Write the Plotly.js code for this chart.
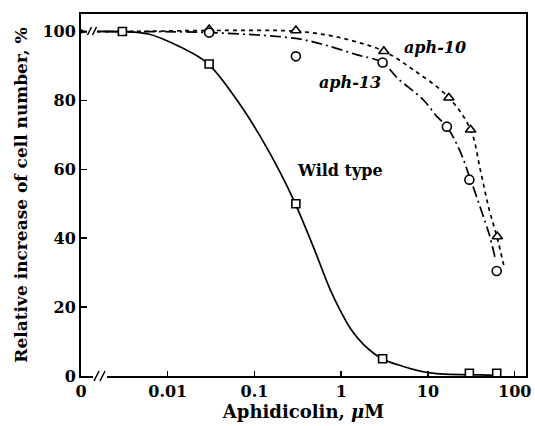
<!DOCTYPE html>
<html>
<head>
<meta charset="utf-8">
<script src="https://cdn.plot.ly/plotly-3.0.1.min.js"></script>
<style>html,body{margin:0;padding:0;background:#fff;}</style>
</head>
<body>
<div id="chart" style="width:535px;height:426px;"></div>
<script>
// Tick positions (dose 0 is drawn at the 0.001 position of the log axis)
const doseTicks = [0.001, 0.01, 0.1, 1, 10, 100];
const doseTickText = ['0', '0.01', '0.1', '1', '10', '100'];
const pctTicks = [0, 20, 40, 60, 80, 100];

// Measured points
const wtDose = [0.003, 0.03, 0.3, 3, 30, 62];
const wtPct = [100, 90.6, 50, 5.0, 0.8, 0.8];
const aph10Dose = [0.03, 0.3, 3.1, 17.4, 31, 63];
const aph10Pct = [100.6, 100.3, 94.3, 80.8, 71.5, 40.5];
const aph13Dose = [0.03, 0.3, 3.0, 16.5, 30, 62];
const aph13Pct = [99.7, 92.8, 91.0, 72.4, 57.0, 30.5];
const zeroDose = [0.001];
const zeroPct = [100];

// Fitted curves
const wtCurveX = [0.001, 0.003, 0.006, 0.014, 0.029, 0.069, 0.117, 0.199, 0.296, 0.477, 0.748, 1.0, 1.3, 1.8, 2.96, 5, 10.5, 40, 62];
const wtCurveY = [100, 100, 99.3, 95.5, 90.7, 78.6, 69.5, 59.0, 50, 37.5, 25.0, 18.5, 13.5, 9.2, 5.0, 2.9, 0.9, 0.3, 0.2];
const aph10CurveX = [0.001, 0.003, 0.03, 0.3, 0.75, 1.5, 3.1, 6.7, 17.4, 31, 40, 50, 63, 75];
const aph10CurveY = [100, 100, 100.3, 100.1, 98.8, 97.0, 94.3, 89.0, 80.8, 71.5, 60.0, 49.0, 40.0, 32.0];
const aph13CurveX = [0.001, 0.003, 0.03, 0.3, 0.63, 1.5, 3.0, 4.4, 8.8, 12.7, 16.5, 23, 30, 40, 51, 59];
const aph13CurveY = [100, 100, 99.7, 98.0, 96.2, 93.3, 91.0, 86.6, 80.2, 75.3, 72.4, 65.7, 58.0, 49.0, 41.0, 34.6];

const F = 'DejaVu Serif';
const lineT = (x, y, dash) => ({
  x: x, y: y, type: 'scatter', mode: 'lines', hoverinfo: 'skip', showlegend: false,
  line: {color: 'black', width: 1.7, dash: dash, shape: 'spline', smoothing: 1}
});
const markT = (x, y, sym, size) => ({
  x: x, y: y, type: 'scatter', mode: 'markers', showlegend: false, cliponaxis: false,
  marker: {symbol: sym, size: size, color: 'white', line: {color: 'black', width: 1.6}}
});

const traces = [
  lineT(wtCurveX, wtCurveY, 'solid'),
  lineT(aph10CurveX, aph10CurveY, '4px,4px'),
  lineT(aph13CurveX, aph13CurveY, '11px,4px,2px,4px'),
  markT(wtDose, wtPct, 'square', 8),
  markT(aph10Dose, aph10Pct, 'triangle-up', 9),
  markT(aph13Dose, aph13Pct, 'circle', 9),
  {x: zeroDose, y: zeroPct, type: 'scatter', mode: 'markers', showlegend: false, cliponaxis: false,
   marker: {symbol: 'triangle-right', size: 7, color: 'black'}}
];

const px = v => (v - 81) / 445;
const py = v => (376 - v) / 362;
const whiteRect = (x0, x1, y0, y1) => ({type: 'rect', xref: 'paper', yref: 'paper', layer: 'above',
  x0: px(x0), x1: px(x1), y0: py(y1), y1: py(y0), fillcolor: 'white', line: {width: 0}});
const slash = (x0, y0, x1, y1) => ({type: 'line', xref: 'paper', yref: 'paper', layer: 'above',
  x0: px(x0), y0: py(y0), x1: px(x1), y1: py(y1), line: {color: 'black', width: 1.6}});

const layout = {
  width: 535, height: 426,
  margin: {l: 81, r: 9, t: 14, b: 50},
  paper_bgcolor: 'white', plot_bgcolor: 'white',
  font: {family: F, color: 'black'},
  xaxis: {
    type: 'log', range: [-3.0, 2.13], tickvals: doseTicks, ticktext: doseTickText,
    ticks: 'inside', ticklen: 5, tickwidth: 1.5, tickcolor: 'black',
    showline: true, linewidth: 2, linecolor: 'black', mirror: true,
    showgrid: false, zeroline: false,
    tickfont: {family: F, size: 16, weight: 'bold', color: 'black'},
    title: {text: 'Aphidicolin, <i>μ</i>M', standoff: 4, font: {family: F, size: 18, weight: 'bold', color: 'black'}}
  },
  yaxis: {
    range: [0, 105.1], tickvals: pctTicks,
    ticks: 'inside', ticklen: 6, tickwidth: 1.5, tickcolor: 'black',
    showline: true, linewidth: 2, linecolor: 'black', mirror: true,
    showgrid: false, zeroline: false,
    tickfont: {family: F, size: 16, weight: 'bold', color: 'black'},
    title: {text: 'Relative increase of cell number, %', standoff: 10, font: {family: F, size: 17, weight: 'bold', color: 'black'}}
  },
  annotations: [
    {x: 1.084, y: 95.3, xref: 'x', yref: 'y', text: '<b><i>aph-10</i></b>', showarrow: false,
     font: {family: F, size: 16, color: 'black'}},
    {x: 0.104, y: 85.2, xref: 'x', yref: 'y', text: '<b><i>aph-13</i></b>', showarrow: false,
     font: {family: F, size: 16, color: 'black'}},
    {x: -0.02, y: 59.6, xref: 'x', yref: 'y', text: '<b>Wild type</b>', showarrow: false,
     font: {family: F, size: 16, color: 'black'}}
  ],
  shapes: [
    whiteRect(87, 97, 25, 37),
    slash(87.5, 35, 91.5, 27),
    slash(92.5, 35, 96.5, 27),
    whiteRect(93, 107, 371, 381),
    slash(94, 381, 99, 371),
    slash(100, 381, 105, 371)
  ]
};

Plotly.newPlot('chart', traces, layout, {displayModeBar: false, staticPlot: true});
</script>
</body>
</html>
